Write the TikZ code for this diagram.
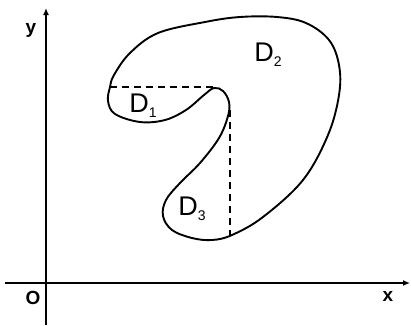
\documentclass[tikz,border=0pt]{standalone}
\usepackage{fontspec}
\setmainfont{Liberation Sans}
\usetikzlibrary{arrows.meta}
\newcommand{\dsub}[1]{D\raisebox{-5pt}{\fontsize{14}{14}\selectfont #1}}
\tikzset{
  axis/.style   ={line width=1.6pt, -{Latex[length=7pt,width=6pt]}},
  region/.style ={line width=1.9pt, line join=round},
  cutline/.style={line width=1.6pt, dash pattern=on 7pt off 5pt},
  dlabel/.style ={font=\fontsize{27}{29}\selectfont, inner sep=0pt},
  alabel/.style ={font=\fontsize{19}{21}\selectfont\bfseries, inner sep=0pt},
}
\begin{document}
\begin{tikzpicture}[x=1pt,y=-1pt]
  \useasboundingbox (0,0) rectangle (411,325);
  % axes
  \coordinate (ybot) at (46,325);
  \coordinate (ytop) at (46,8);
  \coordinate (xlft) at (5,283);
  \coordinate (xrgt) at (410,283);
  \draw[axis] (xlft) -- (xrgt);
  \draw[axis] (ybot) -- (ytop);
  \node[alabel] (ylab) at (31,30)  {y};
  \node[alabel] (olab) at (33,298) {O};
  \node[alabel] (xlab) at (388,296) {x};

  % the region D = D1 + D2 + D3
  \draw[region] plot[smooth cycle, tension=0.6] coordinates {
    (110,87) (108,101) (115,114) (140,122) (165,120) (186,110) (204,95)
    (214,88) (223,91) (229,102) (228,116) (219,138) (200,163) (180,183)
    (166,200) (163,216) (172,230) (192,238) (212,240) (232,235) (263,217)
    (303,180) (328,135) (339,95) (339,65) (329,40) (306,23) (277,17)
    (240,17) (205,22) (158,33) (130,53) (114,75)};

  % dividing cuts
  \coordinate (hcutL) at (110,87);
  \coordinate (hcutR) at (213,87);
  \coordinate (vcutT) at (230,110);
  \coordinate (vcutB) at (230,236);
  \draw[cutline] (hcutL) -- (hcutR);
  \draw[cutline] (vcutT) -- (vcutB);

  \node[dlabel] (d1) at (143,106) {\dsub{1}};
  \node[dlabel] (d2) at (268,55)  {\dsub{2}};
  \node[dlabel] (d3) at (192,209) {\dsub{3}};
\end{tikzpicture}
\end{document}
